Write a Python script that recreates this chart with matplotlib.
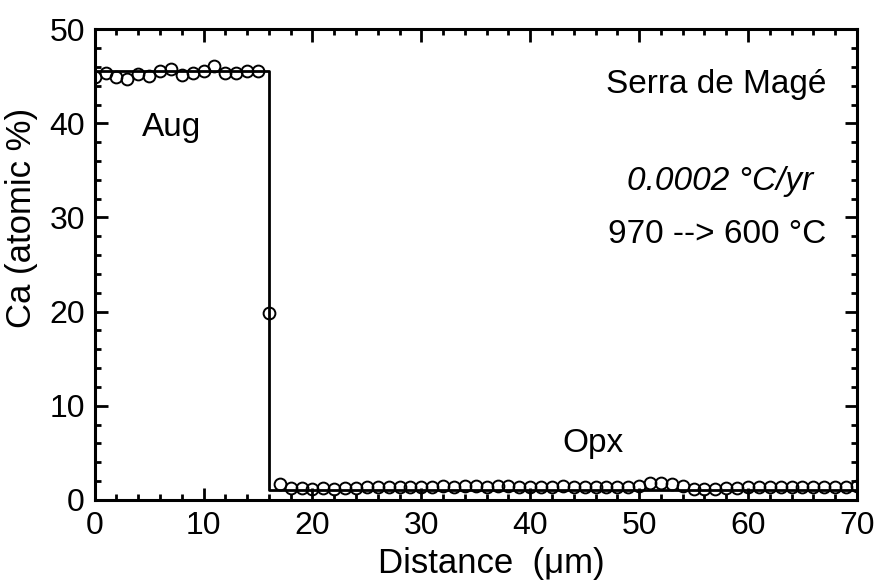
import matplotlib
matplotlib.use("Agg")
import matplotlib.pyplot as plt
from matplotlib.ticker import MultipleLocator

plt.rcParams['font.family'] = ['Liberation Sans', 'DejaVu Sans']

# measured Ca profile (open circles)
aug_x = list(range(0, 16))
aug_ca = [44.9, 45.3, 44.9, 44.7, 45.2, 45.0, 45.6, 45.8, 45.1, 45.4,
          45.6, 46.1, 45.4, 45.4, 45.6, 45.6]
mid_x = [16]
mid_ca = [19.9]
opx_x = list(range(17, 71))
opx_ca = [1.7, 1.3, 1.3, 1.2, 1.3, 1.2, 1.3, 1.3, 1.4, 1.4,
          1.4, 1.4, 1.4, 1.4, 1.4, 1.5, 1.4, 1.5, 1.5, 1.4,
          1.5, 1.5, 1.4, 1.4, 1.4, 1.4, 1.5, 1.4, 1.4, 1.4,
          1.4, 1.4, 1.4, 1.5, 1.8, 1.8, 1.7, 1.5, 1.2, 1.2,
          1.2, 1.3, 1.3, 1.4, 1.4, 1.4, 1.4, 1.4, 1.4, 1.4,
          1.4, 1.4, 1.4, 1.5]

# model step profile (solid line)
model_x = [0, 16, 16, 70]
model_ca = [45.6, 45.6, 1.0, 1.0]

fig = plt.figure(figsize=(8.77, 5.84), dpi=100)
ax = fig.add_axes([0.108, 0.144, 0.869, 0.806])

ax.plot(model_x, model_ca, color='black', lw=2)
pts_x = aug_x + mid_x + opx_x
pts_y = aug_ca + mid_ca + opx_ca
ax.plot(pts_x, pts_y, linestyle='none', marker='o', markersize=8.5,
        markerfacecolor='none', markeredgecolor='black', markeredgewidth=1.4)

ax.set_xlim(0, 70)
ax.set_ylim(0, 50)
ax.xaxis.set_major_locator(MultipleLocator(10))
ax.xaxis.set_minor_locator(MultipleLocator(2))
ax.yaxis.set_major_locator(MultipleLocator(10))
ax.yaxis.set_minor_locator(MultipleLocator(2))
ax.tick_params(which='both', direction='in', top=True, right=True,
               labelsize=23, width=2)
ax.tick_params(which='major', length=9)
ax.tick_params(which='minor', length=4.5)
ax.tick_params(axis='x', which='major', pad=8)
ax.tick_params(axis='y', which='major', pad=7)
for s in ax.spines.values():
    s.set_linewidth(2.2)

ax.set_xlabel("Distance  (\u03bcm)", fontsize=25)
ax.xaxis.set_label_coords(0.52, -0.10)
ax.set_ylabel("Ca (atomic %)", fontsize=25)
ax.yaxis.set_label_coords(-0.075, 0.6)

ax.text(4.3, 38.7, "Aug", fontsize=24, ha='left', va='baseline')
ax.text(43.0, 5.1, "Opx", fontsize=24, ha='left', va='baseline')
ax.text(67.2, 43.2, "Serra de Mag\u00e9", fontsize=24, ha='right', va='baseline')
ax.text(66.0, 32.9, "0.0002 \u00b0C/yr", fontsize=24, ha='right', va='baseline',
        style='italic')
ax.text(67.2, 27.3, "970 --> 600 \u00b0C", fontsize=24, ha='right', va='baseline')

fig.savefig("out.png", dpi=100)
